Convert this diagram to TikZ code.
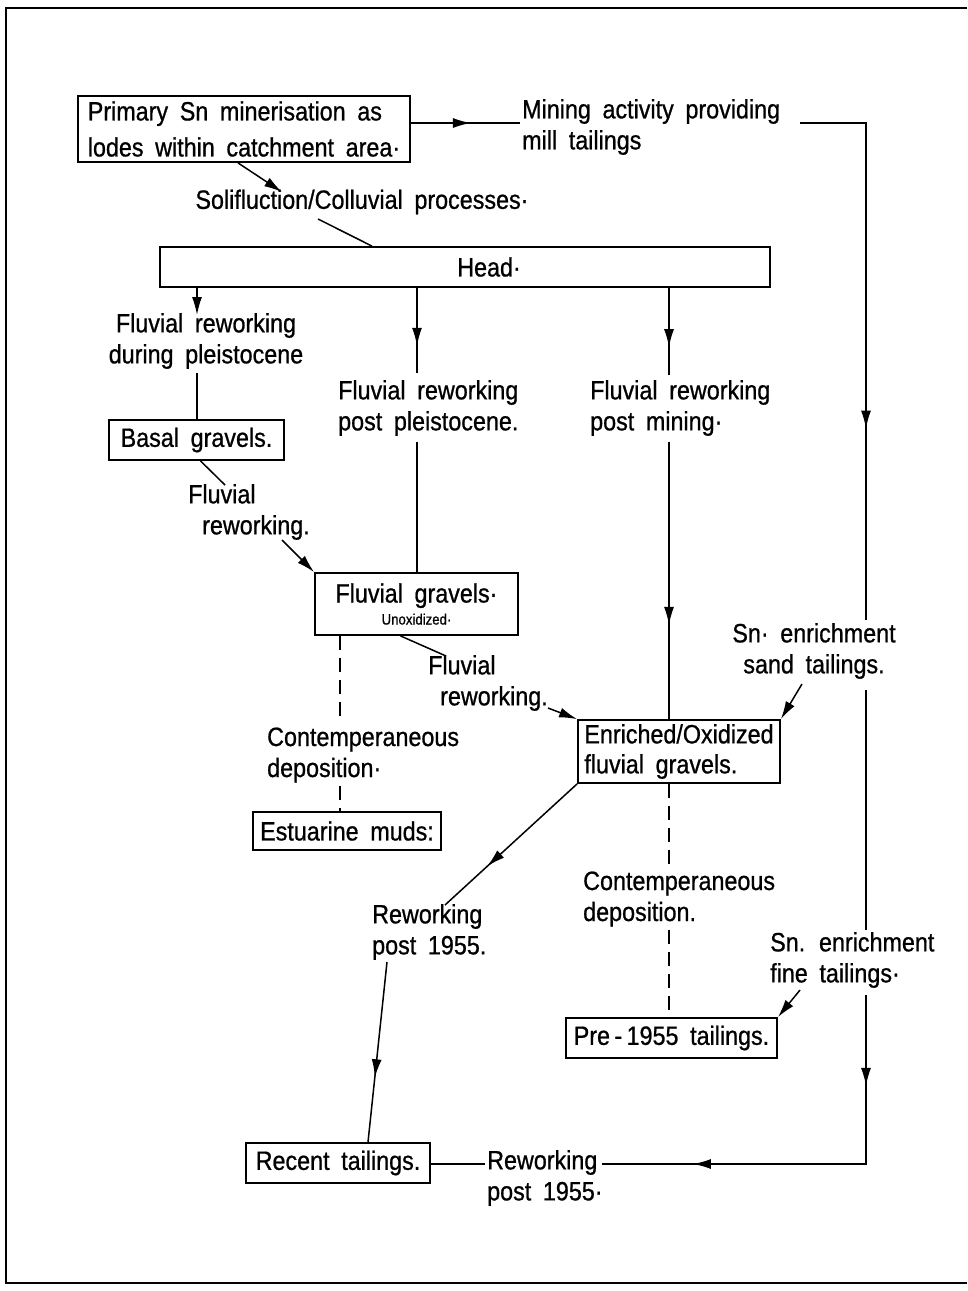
\documentclass[tikz,border=0pt]{standalone}
\usepackage{fontspec}
\setmainfont{Liberation Sans}[FakeStretch=0.88,WordSpace=1.8,FakeBold=0.8]
\usetikzlibrary{arrows.meta,decorations.markings,calc}
\tikzset{
 box/.style={draw, line width=1.8pt, inner sep=4pt, font=\fontsize{26.5}{34}\selectfont, align=center},
 lbl/.style={inner sep=0pt, font=\fontsize{26.5}{31}\selectfont, align=left},
 ln/.style={line width=1.5pt},
 tip/.style={-{Latex[length=18pt,width=10pt]}},
 midarrow/.style={postaction={decorate, decoration={markings, mark=at position #1 with {\arrow{Latex[length=18pt,width=10pt]}}}}},
 dsh/.style={line width=1.5pt, dash pattern=on 14pt off 8pt},
}
\begin{document}
\begin{tikzpicture}[x=1pt,y=-1pt]
\useasboundingbox (0,0) rectangle (967,1291);
% frame
\draw[line width=2.5pt] (967,8) -- (6,8) -- (6,1283) -- (967,1283);

% boxes
\node[box, minimum width=332pt, minimum height=66pt, align=left, font=\fontsize{26.5}{36}\selectfont] (prim) at (244,129) {Primary Sn minerisation as\\lodes within catchment area·};
\node[box, minimum width=610pt, minimum height=40pt] (head) at (465,267) {\hspace*{48pt}Head·};
\node[box, minimum width=175pt, minimum height=40pt] (basal) at (196.5,440) {Basal gravels.};
\node[box, minimum width=203pt, minimum height=62pt] (fluvg) at (416.5,604) {Fluvial gravels·\\[-12pt]{\fontsize{15}{18}\selectfont Unoxidized·}};
\node[box, minimum width=188pt, minimum height=38pt] (estu) at (347,831) {Estuarine muds:};
\node[box, minimum width=202pt, minimum height=63pt, align=left, font=\fontsize{26.5}{30}\selectfont] (enr) at (679,751.5) {Enriched/Oxidized\\fluvial gravels.};
\node[box, minimum width=211pt, minimum height=40pt] (pre) at (671.5,1038) {Pre\,-\,1955 tailings.};
\node[box, minimum width=184pt, minimum height=40pt] (recent) at (338,1163) {Recent tailings.};

% labels
\node[lbl, anchor=west] (mining) at (522,127) {Mining activity providing\\mill tailings};
\node[lbl] (solif) at (362,202) {Solifluction/Colluvial processes·};
\node[lbl, align=center] (fdp) at (206,341) {Fluvial reworking\\during pleistocene};
\node[lbl, anchor=west] (fpp) at (338,408) {Fluvial reworking\\post pleistocene.};
\node[lbl, anchor=west] (fpm) at (590,408) {Fluvial reworking\\post mining·};
\node[lbl, anchor=west] (frb) at (188,512) {Fluvial\\\hspace*{14pt}reworking.};
\node[lbl, anchor=west] (frf) at (428,683) {Fluvial\\\hspace*{12pt}reworking.};
\node[lbl, anchor=west] (cd1) at (267,755) {Contemperaneous\\deposition·};
\node[lbl, align=center] (sand) at (814,651) {Sn· enrichment\\sand tailings.};
\node[lbl, anchor=west] (rw1) at (372,932) {Reworking\\post 1955.};
\node[lbl, anchor=west] (cd2) at (583,899) {Contemperaneous\\deposition.};
\node[lbl, anchor=west] (fine) at (770,960) {Sn. enrichment\\fine tailings·};
\node[lbl, anchor=west] (rw2) at (487,1178) {Reworking\\post 1955·};

% coordinates
\coordinate (mS) at (520,123);
\coordinate (mE) at (800,123);
\coordinate (r1) at (866,123);
\coordinate (r2) at (866,620);
\coordinate (r3) at (866,690);
\coordinate (r4) at (866,930);
\coordinate (r5) at (866,995);
\coordinate (r6) at (866,1164);
\coordinate (b1) at (602,1164);
\coordinate (b0) at (485,1164);
\coordinate (s1) at (282,192);
\coordinate (s2) at (318,219);
\coordinate (d1) at (197,315);
\coordinate (d1b) at (197,373);
\coordinate (d2) at (417,373);
\coordinate (d2b) at (417,442);
\coordinate (d3) at (669,375);
\coordinate (d3b) at (669,442);
\coordinate (e1) at (225,485);
\coordinate (e2) at (282,540);
\coordinate (e3) at (446,656);
\coordinate (e4) at (548,708);
\coordinate (e5) at (802,684);
\coordinate (e6) at (445,905);
\coordinate (e7) at (387,962);
\coordinate (e8) at (800,990);
\coordinate (g1) at (340,722);
\coordinate (g2) at (340,786);
\coordinate (g3) at (669,870);
\coordinate (g4) at (669,930);

% mining path
\draw[ln, midarrow=0.55] (prim.east |- mS) -- (mS);
\draw[ln, midarrow=0.66] (mE) -- (r1) -- (r2);
\draw[ln] (r3) -- (r4);
\draw[ln, midarrow=0.21, midarrow=0.79] (r5) -- (r6) -- (b1);
\draw[ln] (b0) -- (recent.east |- b0);

% top
\draw[ln, tip] ([xshift=-6pt]prim.south) -- (s1);
\draw[ln] (s2) -- ([xshift=-93pt]head.north);

% head drops
\draw[ln, tip] (head.south -| d1) -- (d1);
\draw[ln] (d1b) -- (basal.north -| d1b);
\draw[ln, midarrow=0.68] (head.south -| d2) -- (d2);
\draw[ln] (d2b) -- (fluvg.north -| d2b);
\draw[ln, midarrow=0.68] (head.south -| d3) -- (d3);
\draw[ln, midarrow=0.66] (d3b) -- (enr.north -| d3b);

% reworking links
\draw[ln] ([xshift=4pt]basal.south) -- (e1);
\draw[ln, tip] (e2) -- (fluvg.north west);
\draw[ln] ([xshift=-16pt]fluvg.south) -- (e3);
\draw[ln, tip] (e4) -- (enr.north west);
\draw[dsh] (fluvg.south -| g1) -- (g1);
\draw[dsh] (g2) -- (estu.north -| g2);
\draw[ln, tip] (e5) -- (enr.north east);
\draw[ln, midarrow=0.68] (enr.south west) -- (e6);
\draw[ln, midarrow=0.64] (e7) -- ([xshift=30pt]recent.north);
\draw[dsh] (enr.south -| g3) -- (g3);
\draw[dsh] (g4) -- (pre.north -| g4);
\draw[ln, tip] (e8) -- (pre.north east);
\end{tikzpicture}
\end{document}
